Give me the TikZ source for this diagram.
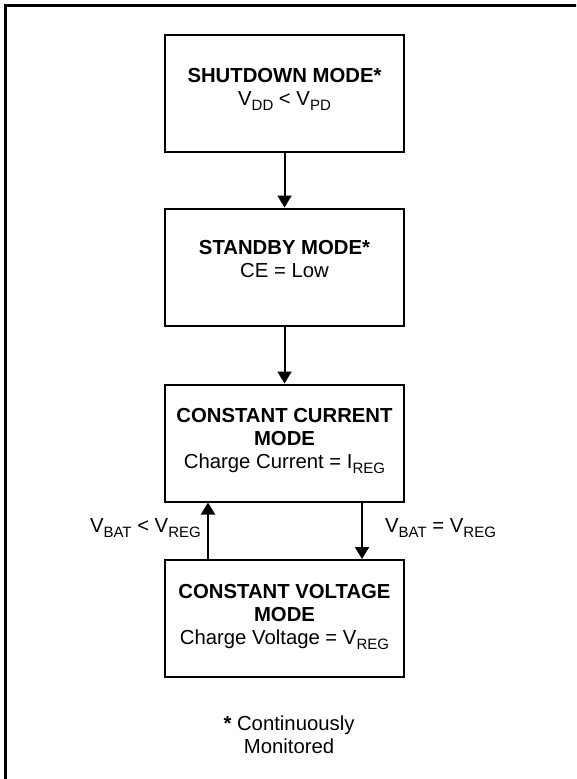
\documentclass[tikz,border=0pt]{standalone}
\usepackage{fontspec}
\setmainfont{Liberation Sans}
\usetikzlibrary{arrows.meta}
\newcommand\subx[1]{\raisebox{-5pt}{\fontsize{15}{15}\selectfont #1}}
\begin{document}
\begin{tikzpicture}[x=1pt,y=-1pt,
  box/.style={draw,line width=2pt,minimum width=239pt,minimum height=117pt,inner sep=0pt},
  txt/.style={align=center,font=\fontsize{20.3}{22.7}\selectfont,inner sep=0pt},
  arr/.style={line width=2pt,-{Triangle[length=12pt,width=14pt]}}]
\clip (0,0) rectangle (576,779);
\useasboundingbox (0,0) rectangle (576,779);
\draw[line width=3pt] (5.5,5.5) rectangle (620,820);
\node[box] (b1) at (284.5,93) {};
\node[box] (b2) at (284.5,267) {};
\node[box] (b3) at (284.5,443) {};
\node[box] (b4) at (284.5,618.5) {};
\node[txt,anchor=base] (t1) at (284.5,105) {\textbf{SHUTDOWN MODE*}\\ V\subx{DD} < V\subx{PD}};
\node[txt,anchor=base] (t2) at (284.5,277) {\textbf{STANDBY MODE*}\\ CE = Low};
\node[txt,anchor=base] (t3) at (284.5,468) {\textbf{CONSTANT CURRENT}\\ \textbf{MODE}\\ Charge Current = I\subx{REG}};
\node[txt,anchor=base] (t4) at (284.5,644) {\textbf{CONSTANT VOLTAGE}\\ \textbf{MODE}\\ Charge Voltage = V\subx{REG}};
\coordinate (xl) at (208,0);
\coordinate (xr) at (362,0);
\draw[arr] (b1.south) -- (b2.north);
\draw[arr] (b2.south) -- (b3.north);
\draw[arr] (b4.north -| xl) -- (b3.south -| xl);
\draw[arr] (b3.south -| xr) -- (b4.north -| xr);
\node[txt,anchor=base east] (l1) at (201,532) {V\subx{BAT} < V\subx{REG}};
\node[txt,anchor=base west] (l2) at (385,532) {V\subx{BAT} = V\subx{REG}};
\node[txt,anchor=base] (fn) at (289,753) {\textbf{*} Continuously\\Monitored};
\end{tikzpicture}
\end{document}
